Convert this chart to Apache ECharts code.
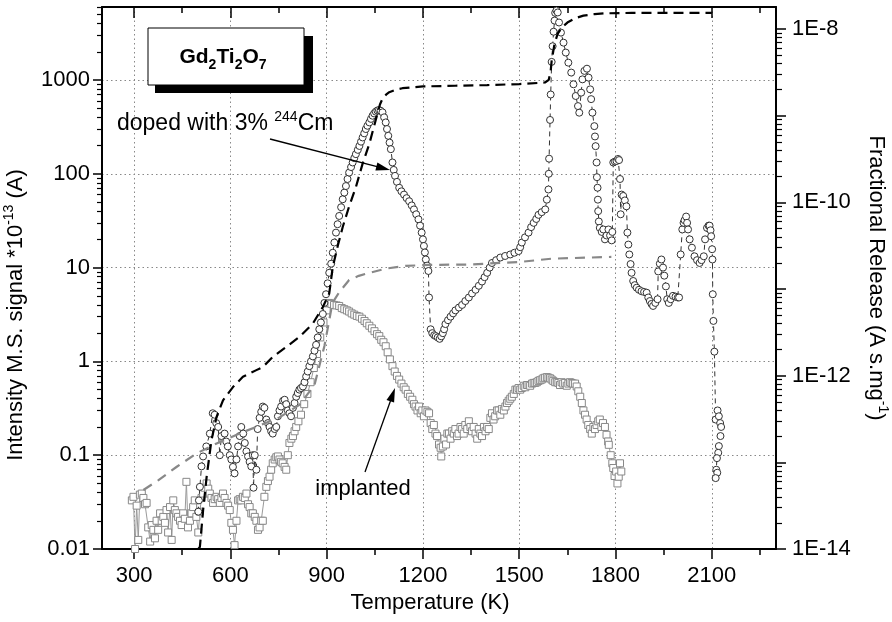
<!DOCTYPE html>
<html>
<head>
<meta charset="utf-8">
<script src="https://cdn.jsdelivr.net/npm/echarts@6/dist/echarts.min.js"></script>
<style>
html, body { margin: 0; padding: 0; background: #fff; }
#chart { width: 892px; height: 622px; }
</style>
</head>
<body>
<div id="chart"></div>
<script>
// tick positions / labels
const xMajorTicks = [300, 600, 900, 1200, 1500, 1800, 2100];
const xMinorTicks = [450, 750, 1050, 1350, 1650, 1950, 2250];
const leftMajorTicks = [0.01, 0.1, 1, 10, 100, 1000];
const rightMajorTicks = [1e-14, 1e-13, 1e-12, 1e-11, 1e-10, 1e-9, 1e-8];
const rightLabelTicks = [1e-14, 1e-12, 1e-10, 1e-8];

// intensity, doped with 3% 244Cm  [T (K), signal]
const dopedSignal = [
  [500,0.025],[502,0.033],[505,0.046],[510,0.076],[515,0.097],[525,0.124],[536,0.17],[545,0.28],
  [551,0.27],[556,0.22],[562,0.2],[567,0.1],[572,0.16],[582,0.17],[587,0.14],[592,0.124],[598,0.1],
  [603,0.09],[608,0.075],[613,0.064],[619,0.09],[624,0.124],[629,0.16],[634,0.2],[640,0.17],[645,0.135],
  [650,0.11],[655,0.097],[660,0.085],[665,0.076],[670,0.1],[672,0.045],[676,0.1],[681,0.07],[685,0.19],
  [691,0.25],[696,0.29],[701,0.33],[706,0.32],[712,0.24],[717,0.22],[722,0.2],[727,0.18],[732,0.17],
  [738,0.19],[743,0.2],[748,0.26],[753,0.3],[758,0.33],[764,0.38],[769,0.39],[774,0.35],[779,0.3],
  [784,0.28],[789,0.26],[795,0.32],[800,0.36],[805,0.42],[810,0.46],[815,0.5],[820,0.52],[826,0.54],
  [831,0.6],[836,0.69],[841,0.78],[846,0.89],[851,1.0],[857,1.13],[862,1.3],[867,1.5],[872,1.8],
  [877,2.2],[882,2.6],[888,3.2],[893,4.2],[898,5.2],[903,6.8],[908,8.8],[914,11],[919,14.4],[924,18.5],
  [929,23.6],[934,29],[939,35.5],[945,44],[950,53.5],[955,63],[960,74],[965,88],[970,103],[976,118],
  [981,132],[986,147],[991,162],[997,180],[1002,198],[1007,220],[1012,244],[1017,270],[1022,300],
  [1027,325],[1033,353],[1038,385],[1043,416],[1048,440],[1053,460],[1058,473],[1063,478],[1068,470],
  [1074,452],[1079,400],[1084,353],[1088,300],[1092,254],[1096,215],[1100,183],[1105,132],[1109,110],
  [1113,95],[1119,82],[1126,71],[1133,65],[1141,60],[1149,55],[1157,51],[1165,46],[1172,41.7],[1179,37],
  [1186,32.7],[1191,28],[1196,23.6],[1200,20],[1203,17],[1206,14.5],[1209,12.2],[1213,10.5],[1217,9.2],
  [1219,4.8],[1224,2.2],[1229,2.0],[1235,1.9],[1240,1.86],[1246,1.8],[1252,1.74],[1257,1.85],[1262,2.0],
  [1266,2.2],[1270,2.5],[1278,2.75],[1286,3.0],[1294,3.25],[1301,3.5],[1312,3.75],[1322,4.0],[1332,4.4],
  [1343,4.8],[1353,5.3],[1364,5.8],[1374,6.4],[1384,7.1],[1392,7.9],[1400,8.8],[1408,10],[1415,11.2],
  [1428,12],[1441,12.8],[1456,13.3],[1472,13.8],[1485,14.4],[1498,15],[1503,16.5],[1508,18.5],[1518,21],
  [1529,23.6],[1537,27],[1545,30],[1553,33],[1560,36.5],[1570,39],[1581,41.7],[1586,53],[1591,68],
  [1592,100],[1593,145],[1596,375],[1598,700],[1601,1560],[1604,2290],[1607,3270],[1610,4300],[1612,5200],
  [1616,5500],[1620,5250],[1624,4100],[1630,3200],[1638,2500],[1645,1960],[1653,1530],[1662,1200],
  [1669,900],[1676,675],[1683,527],[1687,448],[1693,733],[1697,1016],[1703,1250],[1711,1320],[1716,1060],
  [1721,795],[1724,625],[1728,448],[1734,322],[1736,250],[1738,197],[1741,132],[1742,92],[1744,71],
  [1745,53],[1746,40],[1748,31],[1751,26.5],[1757,24],[1762,25.5],[1767,20],[1772,22],[1778,25.5],
  [1783,22],[1788,19.5],[1790,24],[1793,132],[1798,135],[1803,137],[1808,144],[1811,140],[1814,88],
  [1816,37],[1819,60],[1824,58],[1829,52],[1834,45],[1837,23.6],[1840,17.6],[1843,13.8],[1847,10.9],
  [1850,8.8],[1855,7.2],[1860,6.5],[1866,6.1],[1873,5.8],[1881,5.6],[1889,5.5],[1897,5.4],[1902,4.8],
  [1907,4.4],[1912,4.1],[1917,3.9],[1924,4.2],[1931,4.6],[1933,9.1],[1938,11],[1943,12.2],[1948,10],
  [1952,8.2],[1957,6.3],[1961,4.6],[1966,4.2],[1972,4.6],[1979,5.0],[1987,4.9],[1994,4.8],[1998,4.8],
  [2003,13.8],[2008,25.5],[2012,30],[2015,32],[2020,35],[2023,30],[2026,25.5],[2031,20],[2038,16.3],
  [2046,13.2],[2054,12],[2062,11.2],[2068,12],[2075,13.2],[2079,20],[2085,26.5],[2090,28],[2093,28],
  [2096,25],[2098,21.6],[2101,15.7],[2102,12.2],[2103,5.2],[2105,2.7],[2108,1.27],[2112,0.24],[2118,0.30],
  [2122,0.26],[2126,0.22],[2129,0.2],[2127,0.16],[2122,0.125],[2120,0.106],[2116,0.093],[2114,0.07],
  [2117,0.065],[2112,0.057]
];

// intensity, implanted sample
const implantedSignal = [
  [293,0.033],[298,0.036],[303,0.01],[308,0.029],[313,0.0125],[318,0.038],[324,0.039],[329,0.035],
  [334,0.03],[339,0.031],[344,0.017],[350,0.012],[355,0.018],[360,0.016],[365,0.013],[370,0.02],
  [375,0.016],[381,0.024],[386,0.02],[391,0.022],[396,0.019],[401,0.026],[406,0.015],[412,0.028],
  [417,0.0125],[422,0.033],[427,0.026],[432,0.024],[437,0.022],[443,0.02],[448,0.018],[453,0.024],
  [458,0.021],[463,0.052],[468,0.017],[474,0.02],[479,0.024],[484,0.028],[489,0.033],[494,0.022],
  [500,0.015],[505,0.025],[510,0.035],[515,0.039],[520,0.045],[526,0.05],[531,0.044],[536,0.039],
  [541,0.035],[546,0.031],[551,0.034],[557,0.036],[562,0.034],[567,0.031],[572,0.035],[577,0.039],
  [582,0.035],[588,0.031],[593,0.029],[598,0.026],[603,0.019],[608,0.016],[613,0.011],[619,0.02],
  [624,0.033],[629,0.034],[634,0.033],[639,0.036],[645,0.035],[650,0.039],[655,0.03],[660,0.028],
  [665,0.024],[670,0.024],[676,0.022],[681,0.02],[686,0.016],[691,0.017],[696,0.02],[701,0.02],
  [706,0.036],[712,0.046],[717,0.053],[722,0.059],[727,0.07],[732,0.082],[738,0.09],[743,0.095],
  [748,0.097],[753,0.09],[758,0.085],[763,0.082],[769,0.075],[774,0.07],[779,0.1],[784,0.135],
  [790,0.15],[795,0.16],[800,0.18],[805,0.2],[812,0.23],[820,0.27],[830,0.35],[840,0.45],[850,0.6],
  [860,0.85],[870,1.2],[880,1.8],[890,2.6],[900,3.5],[908,4.2],[915,4.1],[923,4.0],[931,3.95],[939,3.9],
  [947,3.7],[955,3.6],[963,3.5],[970,3.4],[978,3.25],[986,3.15],[994,3.05],[1002,3.0],[1010,2.85],
  [1018,2.7],[1025,2.55],[1033,2.4],[1041,2.25],[1049,2.1],[1057,1.95],[1064,1.86],[1070,1.7],[1077,1.6],
  [1084,1.45],[1090,1.25],[1097,1.05],[1105,0.89],[1112,0.78],[1119,0.7],[1126,0.64],[1133,0.58],
  [1140,0.53],[1146,0.5],[1153,0.45],[1160,0.42],[1167,0.39],[1172,0.35],[1177,0.33],[1183,0.3],
  [1188,0.33],[1193,0.28],[1198,0.3],[1203,0.26],[1208,0.3],[1214,0.29],[1219,0.28],[1224,0.22],
  [1229,0.19],[1234,0.21],[1239,0.17],[1244,0.16],[1250,0.13],[1255,0.12],[1257,0.097],[1262,0.124],
  [1267,0.15],[1272,0.13],[1276,0.17],[1281,0.17],[1286,0.15],[1291,0.18],[1296,0.17],[1301,0.19],
  [1306,0.16],[1311,0.17],[1317,0.2],[1322,0.19],[1327,0.17],[1332,0.21],[1338,0.19],[1343,0.23],
  [1348,0.2],[1353,0.18],[1358,0.2],[1364,0.17],[1369,0.15],[1374,0.19],[1379,0.17],[1384,0.16],
  [1390,0.2],[1395,0.18],[1400,0.2],[1405,0.19],[1410,0.25],[1415,0.28],[1420,0.24],[1425,0.26],
  [1431,0.3],[1436,0.3],[1441,0.27],[1446,0.31],[1452,0.3],[1457,0.33],[1462,0.36],[1467,0.38],
  [1472,0.4],[1477,0.42],[1483,0.45],[1488,0.5],[1493,0.5],[1498,0.52],[1503,0.5],[1508,0.52],
  [1514,0.55],[1519,0.53],[1524,0.56],[1529,0.56],[1534,0.55],[1540,0.58],[1545,0.59],[1550,0.59],
  [1555,0.6],[1560,0.62],[1565,0.63],[1570,0.64],[1575,0.66],[1580,0.67],[1586,0.68],[1591,0.67],
  [1596,0.66],[1601,0.64],[1606,0.62],[1612,0.6],[1617,0.6],[1622,0.59],[1627,0.56],[1632,0.6],
  [1637,0.58],[1643,0.59],[1648,0.55],[1653,0.58],[1658,0.6],[1663,0.59],[1668,0.58],[1674,0.58],
  [1679,0.54],[1684,0.48],[1690,0.42],[1695,0.36],[1700,0.3],[1705,0.27],[1710,0.24],[1715,0.21],
  [1721,0.19],[1726,0.17],[1731,0.2],[1736,0.19],[1741,0.21],[1746,0.23],[1751,0.24],[1756,0.2],
  [1761,0.22],[1767,0.2],[1772,0.165],[1777,0.14],[1779,0.129],[1785,0.1],[1790,0.082],[1793,0.073],
  [1797,0.06],[1802,0.067],[1806,0.05],[1810,0.059],[1814,0.082],[1818,0.067]
];

// fractional release (right axis), doped
const dopedRelease = [
  [500,1.0e-14],[505,1.06e-14],[515,2.8e-14],[526,6.8e-14],[541,1.8e-13],[557,3.35e-13],[577,5.2e-13],
  [608,7.4e-13],[639,9.7e-13],[681,1.16e-12],[701,1.26e-12],[732,1.65e-12],[774,2.15e-12],[815,2.8e-12],
  [857,4.0e-12],[888,6.2e-12],[908,8.9e-12],[919,1.8e-11],[935,3.2e-11],[950,5.2e-11],[970,9e-11],
  [991,1.5e-10],[1012,2.8e-10],[1033,4.75e-10],[1046,7.2e-10],[1058,1.05e-9],[1066,1.35e-9],
  [1074,1.57e-9],[1085,1.75e-9],[1095,1.87e-9],[1115,2.0e-9],[1136,2.08e-9],[1200,2.18e-9],
  [1300,2.22e-9],[1400,2.26e-9],[1500,2.32e-9],[1580,2.42e-9],[1592,2.6e-9],[1598,3.3e-9],
  [1601,4.3e-9],[1610,6.8e-9],[1620,8.9e-9],[1635,1.06e-8],[1650,1.19e-8],[1675,1.34e-8],
  [1700,1.43e-8],[1735,1.49e-8],[1765,1.52e-8],[1850,1.54e-8],[2000,1.54e-8],[2100,1.54e-8]
];

// fractional release (right axis), implanted
const implantedRelease = [
  [329,4.8e-14],[375,6.2e-14],[433,8.9e-14],[495,1.27e-13],[557,1.65e-13],[629,2.16e-13],[681,2.57e-13],
  [753,3.3e-13],[815,4.6e-13],[862,7.8e-13],[893,2.2e-12],[918,6.9e-12],[939,9.2e-12],[970,1.27e-11],
  [1000,1.42e-11],[1022,1.5e-11],[1084,1.72e-11],[1146,1.85e-11],[1219,1.9e-11],[1343,1.92e-11],
  [1498,2.05e-11],[1600,2.24e-11],[1787,2.35e-11]
];

const FONT = '"Liberation Sans", Arial, Helvetica, sans-serif';

function minorLogTicks(decades, max) {
  const out = [];
  decades.forEach(d => {
    for (let k = 2; k <= 9; k++) {
      const v = Number((d * k).toPrecision(3));
      if (v <= max) out.push(v);
    }
  });
  return out;
}

const LEFT_MIN = 0.01, LEFT_MAX = 6000;
const RIGHT_MIN = 1e-14, RIGHT_MAX = 1.8e-8;

const chart = echarts.init(document.getElementById('chart'));

const noLabel = { show: false };
const blackLine = { show: true, lineStyle: { color: '#000', width: 2 } };

const option = {
  animation: false,
  backgroundColor: '#fff',
  grid: { left: 102, right: 116, top: 7, bottom: 73, containLabel: false, outerBoundsMode: 'none' },
  xAxis: [
    {
      type: 'value', position: 'bottom', min: 200, max: 2300,
      axisLine: blackLine,
      axisTick: { show: true, customValues: xMajorTicks, length: 10, inside: false, lineStyle: { color: '#000', width: 1.5 } },
      axisLabel: { customValues: xMajorTicks, formatter: v => String(v), color: '#000', fontSize: 22, fontFamily: FONT, margin: 16 },
      splitLine: { show: true, lineStyle: { color: '#888', width: 1, type: [1.5, 3] } },
      name: 'Temperature (K)', nameLocation: 'middle', nameGap: 40,
      nameTextStyle: { color: '#000', fontSize: 22, fontFamily: FONT, padding: [0, 18, 0, 0] }
    },
    {
      type: 'value', position: 'bottom', min: 200, max: 2300,
      axisLine: { show: false },
      axisTick: { show: true, customValues: xMinorTicks, length: 6, lineStyle: { color: '#000', width: 1.5 } },
      axisLabel: noLabel, splitLine: { show: false }
    },
    {
      type: 'value', position: 'top', min: 200, max: 2300,
      axisLine: blackLine,
      axisTick: { show: true, customValues: xMajorTicks, length: 11, inside: true, lineStyle: { color: '#000', width: 1.5 } },
      axisLabel: noLabel, splitLine: { show: false }
    },
    {
      type: 'value', position: 'top', min: 200, max: 2300,
      axisLine: { show: false },
      axisTick: { show: true, customValues: xMinorTicks, length: 6, inside: true, lineStyle: { color: '#000', width: 1.5 } },
      axisLabel: noLabel, splitLine: { show: false }
    }
  ],
  yAxis: [
    {
      type: 'log', position: 'left', min: LEFT_MIN, max: LEFT_MAX, logBase: 10,
      axisLine: blackLine,
      axisTick: { show: true, customValues: leftMajorTicks, length: 9, lineStyle: { color: '#000', width: 1.5 } },
      axisLabel: { customValues: leftMajorTicks, formatter: v => String(v), color: '#000', fontSize: 22, fontFamily: FONT, margin: 12 },
      splitLine: { show: true, lineStyle: { color: '#888', width: 1, type: [1.5, 3] } },
      name: 'Intensity M.S. signal *10{sup|-13} (A)', nameLocation: 'middle', nameGap: 66,
      nameTextStyle: {
        color: '#000', fontSize: 22, fontFamily: FONT, lineHeight: 28, padding: [0, 74, 0, 0],
        rich: { sup: { fontSize: 14, fontFamily: FONT, color: '#000', lineHeight: 14, verticalAlign: 'top' } }
      }
    },
    {
      type: 'log', position: 'left', min: LEFT_MIN, max: LEFT_MAX, logBase: 10,
      axisLine: { show: false },
      axisTick: { show: true, customValues: minorLogTicks(leftMajorTicks, LEFT_MAX), length: 5, lineStyle: { color: '#000', width: 1.2 } },
      axisLabel: noLabel, splitLine: { show: false }
    },
    {
      type: 'log', position: 'right', min: RIGHT_MIN, max: RIGHT_MAX, logBase: 10,
      axisLine: blackLine,
      axisTick: { show: true, customValues: rightMajorTicks, length: 10, lineStyle: { color: '#000', width: 1.5 } },
      axisLabel: {
        customValues: rightLabelTicks,
        formatter: v => '1E' + Math.round(Math.log10(v)),
        color: '#000', fontSize: 22, fontFamily: FONT, margin: 16
      },
      splitLine: { show: false },
      name: 'Fractional Release (A s.mg{sup|-1})', nameLocation: 'middle', nameGap: 82, nameRotate: -90,
      nameTextStyle: {
        color: '#000', fontSize: 22, fontFamily: FONT, lineHeight: 28,
        rich: { sup: { fontSize: 14, fontFamily: FONT, color: '#000', lineHeight: 14, verticalAlign: 'top' } }
      }
    },
    {
      type: 'log', position: 'right', min: RIGHT_MIN, max: RIGHT_MAX, logBase: 10,
      axisLine: { show: false },
      axisTick: { show: true, customValues: minorLogTicks(rightMajorTicks, RIGHT_MAX), length: 6, lineStyle: { color: '#000', width: 1.2 } },
      axisLabel: noLabel, splitLine: { show: false }
    }
  ],
  series: [
    {
      name: 'implanted', type: 'line', xAxisIndex: 0, yAxisIndex: 0, data: implantedSignal,
      symbol: 'rect', symbolSize: 7, z: 2,
      itemStyle: { color: '#fff', borderColor: '#888', borderWidth: 1 },
      lineStyle: { color: '#999', width: 1 },
      emphasis: { disabled: true }
    },
    {
      name: 'doped', type: 'line', xAxisIndex: 0, yAxisIndex: 0, data: dopedSignal,
      symbol: 'circle', symbolSize: 7, z: 3,
      itemStyle: { color: '#fff', borderColor: '#333', borderWidth: 1 },
      lineStyle: { color: '#333', width: 1, type: [5, 4] },
      emphasis: { disabled: true }
    },
    {
      name: 'implanted release', type: 'line', xAxisIndex: 0, yAxisIndex: 2, data: implantedRelease,
      symbol: 'none', z: 4,
      lineStyle: { color: '#888', width: 2.2, type: [10, 7] },
      emphasis: { disabled: true }
    },
    {
      name: 'doped release', type: 'line', xAxisIndex: 0, yAxisIndex: 2, data: dopedRelease,
      symbol: 'none', z: 5,
      lineStyle: { color: '#000', width: 2.2, type: [10, 6] },
      emphasis: { disabled: true }
    }
  ],
  graphic: [
    { type: 'rect', z: 100, shape: { x: 155, y: 36, width: 158, height: 57 }, style: { fill: '#000' } },
    { type: 'rect', z: 101, shape: { x: 148, y: 28, width: 156, height: 57 }, style: { fill: '#fff', stroke: '#000', lineWidth: 1 } },
    {
      type: 'text', z: 102, x: 223, y: 57,
      style: {
        text: '{b|Gd}{s|2}{b|Ti}{s|2}{b|O}{s|7}', align: 'center', verticalAlign: 'middle',
        rich: {
          b: { fontSize: 21, fontWeight: 'bold', fontFamily: FONT, fill: '#000', lineHeight: 30, verticalAlign: 'middle' },
          s: { fontSize: 14, fontWeight: 'bold', fontFamily: FONT, fill: '#000', lineHeight: 14, verticalAlign: 'bottom' }
        }
      }
    },
    {
      type: 'text', z: 102, x: 117, y: 124,
      style: {
        text: 'doped with 3% {sup|244}Cm', align: 'left', verticalAlign: 'middle',
        fontSize: 23, fontFamily: FONT, fill: '#000', lineHeight: 28,
        rich: { sup: { fontSize: 14, fontFamily: FONT, fill: '#000', lineHeight: 14, verticalAlign: 'top' } }
      }
    },
    {
      type: 'text', z: 102, x: 363, y: 489,
      style: { text: 'implanted', align: 'center', verticalAlign: 'middle', fontSize: 22, fontFamily: FONT, fill: '#000' }
    },
    { type: 'line', z: 102, shape: { x1: 270, y1: 139, x2: 380, y2: 167.4 }, style: { stroke: '#000', lineWidth: 1.3 } },
    { type: 'polygon', z: 102, shape: { points: [[390, 170], [375.4, 170.4], [377.4, 162.6]] }, style: { fill: '#000' } },
    { type: 'line', z: 102, shape: { x1: 365, y1: 472, x2: 391.5, y2: 398 }, style: { stroke: '#000', lineWidth: 1.3 } },
    { type: 'polygon', z: 102, shape: { points: [[395, 388], [394.1, 402.5], [386.5, 399.9]] }, style: { fill: '#000' } }
  ]
};

chart.setOption(option);
</script>
</body>
</html>
